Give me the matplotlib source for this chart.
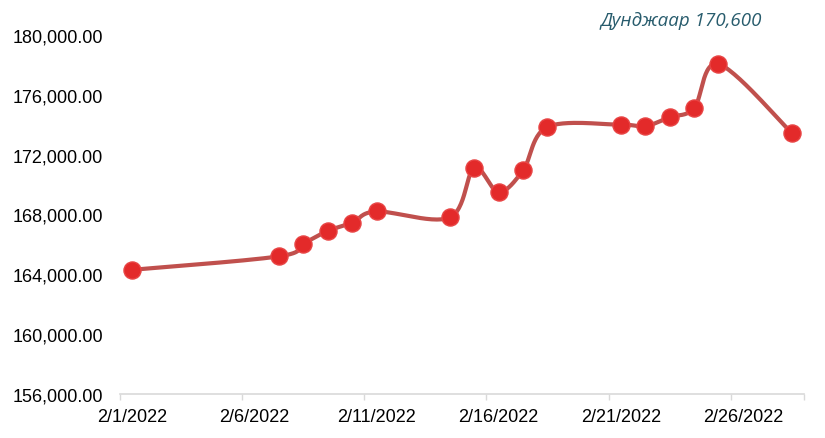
"""Daily price chart, February 2022."""
import numpy as np
import matplotlib
matplotlib.use("Agg")
import matplotlib.pyplot as plt
from matplotlib.ticker import FuncFormatter, FixedLocator


# day of month for each observation
days = [1, 7, 8, 9, 10, 11, 14, 15, 16, 17, 18, 21, 22, 23, 24, 25, 28]
prices = [164300, 165200, 166050, 166900, 167450, 168200, 167800, 171100,
          169500, 170950, 173850, 174000, 173900, 174500, 175100, 178050, 173450]
tick_days = [1, 6, 11, 16, 21, 26]
tick_labels = ["2/1/2022", "2/6/2022", "2/11/2022", "2/16/2022", "2/21/2022", "2/26/2022"]
y_ticks = [156000, 160000, 164000, 168000, 172000, 176000, 180000]
note = "Дунджаар 170,600"


def smooth_curve(x, y, steps=30):
    """Excel-like smoothed line: cubic Bezier between points."""
    pts = np.column_stack([x, y]).astype(float)
    n = len(pts)
    out = []
    for i in range(n - 1):
        p0 = pts[max(i - 1, 0)]
        p1 = pts[i]
        p2 = pts[i + 1]
        p3 = pts[min(i + 2, n - 1)]
        c1 = p1 + (p2 - p0) / 6
        c2 = p2 - (p3 - p1) / 6
        t = np.linspace(0, 1, steps)[:, None]
        seg = ((1 - t) ** 3) * p1 + 3 * ((1 - t) ** 2) * t * c1 \
            + 3 * (1 - t) * t ** 2 * c2 + t ** 3 * p2
        out.append(seg if i == 0 else seg[1:])
    out = np.vstack(out)
    return out[:, 0], out[:, 1]


plt.rcParams["font.family"] = ["Liberation Sans", "DejaVu Sans"]

fig = plt.figure(figsize=(8.25, 4.39), dpi=100)
ax = fig.add_axes([0.1455, 0.1002, 0.829, 0.818])

sx, sy = smooth_curve(days, prices)
ax.plot(sx, sy, color="#C0504D", linewidth=3.0, solid_capstyle="round", zorder=2)
ax.plot(days, prices, linestyle="none", marker="o", markersize=12.3,
        markerfacecolor="#E32A2A", markeredgecolor="#E84545",
        markeredgewidth=1.0, zorder=3)

ax.set_xlim(0.5, 28.5)
ax.set_ylim(156000, 180000)

# tick marks sit on day boundaries, labels in the middle of the day
ax.xaxis.set_major_locator(FixedLocator([d - 0.5 for d in tick_days] + [28.5]))
ax.xaxis.set_major_formatter(FuncFormatter(lambda v, p: ""))
ax.xaxis.set_minor_locator(FixedLocator(tick_days))
ax.set_xticklabels(tick_labels, minor=True)
ax.tick_params(axis="x", which="major", length=4, width=1, color="#D9D9D9")
ax.tick_params(axis="x", which="minor", length=0, pad=10, labelsize=13)

ax.set_yticks(y_ticks)
ax.yaxis.set_major_formatter(FuncFormatter(lambda v, p: f"{v:,.2f}"))
ax.tick_params(axis="y", length=0, pad=12, labelsize=13)

for side in ["top", "right", "left"]:
    ax.spines[side].set_visible(False)
ax.spines["bottom"].set_color("#D9D9D9")
ax.spines["bottom"].set_linewidth(1.2)

fig.text(0.826, 0.952, note, ha="center", va="center", fontsize=13.5,
         style="italic", color="#285C6D", family=["Open Sans", "DejaVu Sans"])

fig.savefig("out.png", dpi=100)
